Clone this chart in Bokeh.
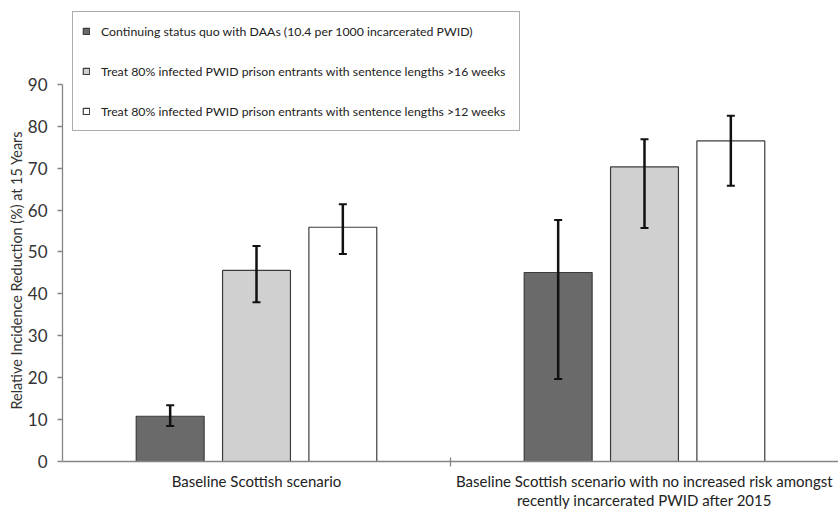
from bokeh.plotting import figure
from bokeh.models import (ColumnDataSource, Range1d, FixedTicker, Whisker, TeeHead,
                          Legend, LegendItem, Title)
from bokeh.embed import file_html
from bokeh.resources import INLINE

# ---------------- data ----------------
categories = [
    "Baseline Scottish scenario",
    "Baseline Scottish scenario with no increased risk amongst\nrecently incarcerated PWID after 2015",
]
series_names = [
    "Continuing status quo with DAAs (10.4 per 1000 incarcerated PWID)",
    "Treat 80% infected PWID prison entrants with sentence lengths >16 weeks",
    "Treat 80% infected PWID prison entrants with sentence lengths >12 weeks",
]
status_quo = [10.8, 45.1]
status_quo_low = [8.5, 19.7]
status_quo_high = [13.4, 57.6]
treat_16wk = [45.6, 70.3]
treat_16wk_low = [38.0, 55.7]
treat_16wk_high = [51.4, 76.9]
treat_12wk = [55.9, 76.5]
treat_12wk_low = [49.5, 65.8]
treat_12wk_high = [61.4, 82.5]
y_ticks = [0, 10, 20, 30, 40, 50, 60, 70, 80, 90]
y_label = "Relative Incidence Reduction (%) at 15 Years"

# ---------------- style ----------------
FONT = "Lato"
fills = ["#6a6a6a", "#d0d0d0", "#ffffff"]
offsets = [-0.2225, 0.0, 0.2225]
bar_width = 0.175
axis_gray = "#858585"

p = figure(width=838, height=512, x_range=Range1d(0, 2), y_range=Range1d(0, 110),
           output_backend="svg", toolbar_location=None,
           min_border_left=62, min_border_right=0, min_border_top=0, min_border_bottom=47)
p.outline_line_color = None
p.grid.visible = False
p.background_fill_color = "white"

series = [
    (status_quo, status_quo_low, status_quo_high),
    (treat_16wk, treat_16wk_low, treat_16wk_high),
    (treat_12wk, treat_12wk_low, treat_12wk_high),
]
bars = []
for k, (vals, lo, hi) in enumerate(series):
    xs = [i + 0.5 + offsets[k] for i in range(len(categories))]
    src = ColumnDataSource(dict(x=xs, top=vals, lower=lo, upper=hi))
    bars.append(p.vbar(x="x", top="top", width=bar_width, source=src,
                       fill_color=fills[k], line_color="#3c3c3c", line_width=1.2))
    w = Whisker(source=src, base="x", lower="lower", upper="upper",
                line_color="#111111", line_width=2.5, level="overlay",
                upper_head=TeeHead(size=8, line_width=2, line_color="#111111"),
                lower_head=TeeHead(size=8, line_width=2, line_color="#111111"))
    p.add_layout(w)

# y axis
yax = p.yaxis[0]
yax.ticker = FixedTicker(ticks=y_ticks)
yax.bounds = (0, 90)
yax.major_tick_in = 0
yax.major_tick_out = 5
yax.minor_tick_line_color = None
yax.axis_line_color = axis_gray
yax.axis_line_width = 1.3
yax.major_tick_line_color = axis_gray
yax.major_tick_line_width = 1.3
yax.major_label_text_font = FONT
yax.major_label_text_font_size = "17px"
yax.major_label_text_color = "#333333"
yax.major_label_standoff = 10

# x axis
xax = p.xaxis[0]
xax.ticker = FixedTicker(ticks=[0.5, 1.5], minor_ticks=[1])
xax.major_tick_in = 0
xax.major_tick_out = 0
xax.major_tick_line_color = None
xax.minor_tick_in = 4
xax.minor_tick_out = 5
xax.minor_tick_line_color = axis_gray
xax.minor_tick_line_width = 1.3
xax.axis_line_color = axis_gray
xax.axis_line_width = 1.3
xax.major_label_overrides = {0.5: categories[0], 1.5: categories[1]}
xax.major_label_text_font = FONT
xax.major_label_text_font_size = "15px"
xax.major_label_text_line_height = 1.1
xax.major_label_text_color = "#222222"
xax.major_label_standoff = 5

# y label as a left title
t = Title(text=y_label, align="left", offset=52, standoff=0,
          text_font=FONT, text_font_size="14.4px", text_font_style="normal",
          text_color="#333333")
p.add_layout(t, "left")

legend = Legend(
    items=[LegendItem(label=series_names[k], renderers=[bars[k]], index=0) for k in range(3)],
    location=(10, 330), glyph_width=8, glyph_height=8, label_height=20,
    spacing=20, padding=9, label_standoff=11, label_width=409,
    label_text_font=FONT, label_text_font_size="12.3px", label_text_color="#222222",
    border_line_color="#595959", border_line_width=1.2,
    background_fill_color="white", background_fill_alpha=1.0,
)
p.add_layout(legend)

open("out.html", "w").write(file_html(p, INLINE))
